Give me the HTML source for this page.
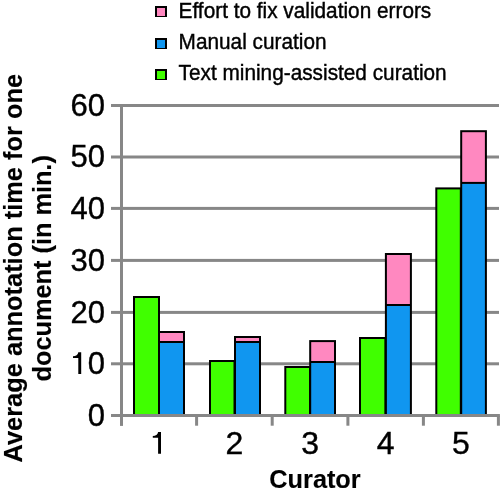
<!DOCTYPE html>
<html><head><meta charset="utf-8"><style>
html,body{margin:0;padding:0;background:#fff;width:500px;height:494px;overflow:hidden}
svg{display:block}
text{font-family:"Liberation Sans",sans-serif;fill:#000;stroke:#000;stroke-width:0.4px}
.ylab{font-size:31px}
svg{will-change:transform}
.lab{font-size:32px}
.ttl{font-size:25.3px;font-weight:bold;stroke-width:0.15px}
.leg{font-size:20.8px}
</style></head><body>
<svg width="500" height="494" viewBox="0 0 500 494">
<rect x="111" y="362.30" width="388" height="3" fill="#878787"/>
<rect x="111" y="310.90" width="388" height="3" fill="#878787"/>
<rect x="111" y="258.90" width="388" height="3" fill="#878787"/>
<rect x="111" y="206.90" width="388" height="3" fill="#878787"/>
<rect x="111" y="155.50" width="388" height="3" fill="#878787"/>
<rect x="111" y="104.00" width="388" height="3" fill="#878787"/>
<rect x="133.00" y="296.00" width="27.00" height="119.50" fill="#000"/>
<rect x="135.00" y="298.00" width="23.00" height="117.50" fill="#40ff00"/>
<rect x="158.00" y="331.00" width="27.00" height="84.50" fill="#000"/>
<rect x="160.00" y="333.00" width="23.00" height="8.00" fill="#ff88c0"/>
<rect x="160.00" y="343.00" width="23.00" height="72.50" fill="#1096f0"/>
<rect x="209.00" y="360.00" width="26.50" height="55.50" fill="#000"/>
<rect x="211.00" y="362.00" width="22.50" height="53.50" fill="#40ff00"/>
<rect x="234.00" y="336.00" width="27.00" height="79.50" fill="#000"/>
<rect x="236.00" y="338.00" width="23.00" height="3.00" fill="#ff88c0"/>
<rect x="236.00" y="343.00" width="23.00" height="72.50" fill="#1096f0"/>
<rect x="284.30" y="366.00" width="26.70" height="49.50" fill="#000"/>
<rect x="286.30" y="368.00" width="22.70" height="47.50" fill="#40ff00"/>
<rect x="309.20" y="340.10" width="26.80" height="75.40" fill="#000"/>
<rect x="311.20" y="342.10" width="22.80" height="18.90" fill="#ff88c0"/>
<rect x="311.20" y="363.00" width="22.80" height="52.50" fill="#1096f0"/>
<rect x="359.00" y="337.00" width="27.40" height="78.50" fill="#000"/>
<rect x="361.00" y="339.00" width="23.40" height="76.50" fill="#40ff00"/>
<rect x="384.90" y="253.00" width="27.00" height="162.50" fill="#000"/>
<rect x="386.90" y="255.00" width="23.00" height="49.00" fill="#ff88c0"/>
<rect x="386.90" y="306.00" width="23.00" height="109.50" fill="#1096f0"/>
<rect x="435.30" y="187.40" width="26.50" height="228.10" fill="#000"/>
<rect x="437.30" y="189.40" width="22.50" height="226.10" fill="#40ff00"/>
<rect x="460.20" y="130.20" width="26.70" height="285.30" fill="#000"/>
<rect x="462.20" y="132.20" width="22.70" height="49.70" fill="#ff88c0"/>
<rect x="462.20" y="183.90" width="22.70" height="231.60" fill="#1096f0"/>
<rect x="120" y="104" width="3" height="321.7" fill="#878787"/>
<rect x="111" y="414.0" width="388.9" height="3" fill="#878787"/>
<rect x="120.00" y="415.5" width="3" height="10.2" fill="#878787"/>
<rect x="195.10" y="415.5" width="3" height="10.2" fill="#878787"/>
<rect x="270.70" y="415.5" width="3" height="10.2" fill="#878787"/>
<rect x="346.40" y="415.5" width="3" height="10.2" fill="#878787"/>
<rect x="421.90" y="415.5" width="3" height="10.2" fill="#878787"/>
<rect x="496.90" y="415.5" width="3" height="10.2" fill="#878787"/>
<text x="104.9" y="425.80" text-anchor="end" class="ylab">0</text>
<text x="104.9" y="374.10" text-anchor="end" class="ylab">0</text>
<path d="M78.30,352.30h2.9V374.10h-2.9V357.90H73.00V356.30C75.80,356.30 78.00,354.80 78.30,352.30Z" fill="#000"/>
<text x="104.9" y="322.70" text-anchor="end" class="ylab">20</text>
<text x="104.9" y="270.70" text-anchor="end" class="ylab">30</text>
<text x="104.9" y="218.70" text-anchor="end" class="ylab">40</text>
<text x="104.9" y="167.30" text-anchor="end" class="ylab">50</text>
<text x="104.9" y="115.80" text-anchor="end" class="ylab">60</text>
<path d="M158.10,432.10h2.9V453.80h-2.9V437.70H152.80V436.10C155.60,436.10 157.80,434.60 158.10,432.10Z" fill="#000"/>
<text x="234.40" y="453.8" text-anchor="middle" class="lab">2</text>
<text x="310.05" y="453.8" text-anchor="middle" class="lab">3</text>
<text x="385.65" y="453.8" text-anchor="middle" class="lab">4</text>
<text x="460.90" y="453.8" text-anchor="middle" class="lab">5</text>
<text x="315" y="487.5" text-anchor="middle" class="ttl">Curator</text>
<text transform="translate(22.3,268.2) rotate(-90)" text-anchor="middle" class="ttl" style="font-size:25.4px">Average annotation time for one</text>
<text transform="translate(51,268.3) rotate(-90)" text-anchor="middle" class="ttl">document (in min.)</text>
<rect x="155" y="6" width="12" height="11" fill="#000"/>
<rect x="157" y="8" width="8" height="8" fill="#ff88c0"/>
<text transform="translate(178.6,18) scale(1,1.035)" class="leg">Effort to fix validation errors</text>
<rect x="155" y="38" width="12" height="11" fill="#000"/>
<rect x="157" y="40" width="8" height="8" fill="#1096f0"/>
<text transform="translate(178.6,49) scale(1,1.035)" class="leg">Manual curation</text>
<rect x="155" y="69" width="12" height="11" fill="#000"/>
<rect x="157" y="71" width="8" height="8" fill="#40ff00"/>
<text transform="translate(178.6,80.2) scale(1,1.035)" class="leg">Text mining-assisted curation</text>
</svg>
</body></html>
